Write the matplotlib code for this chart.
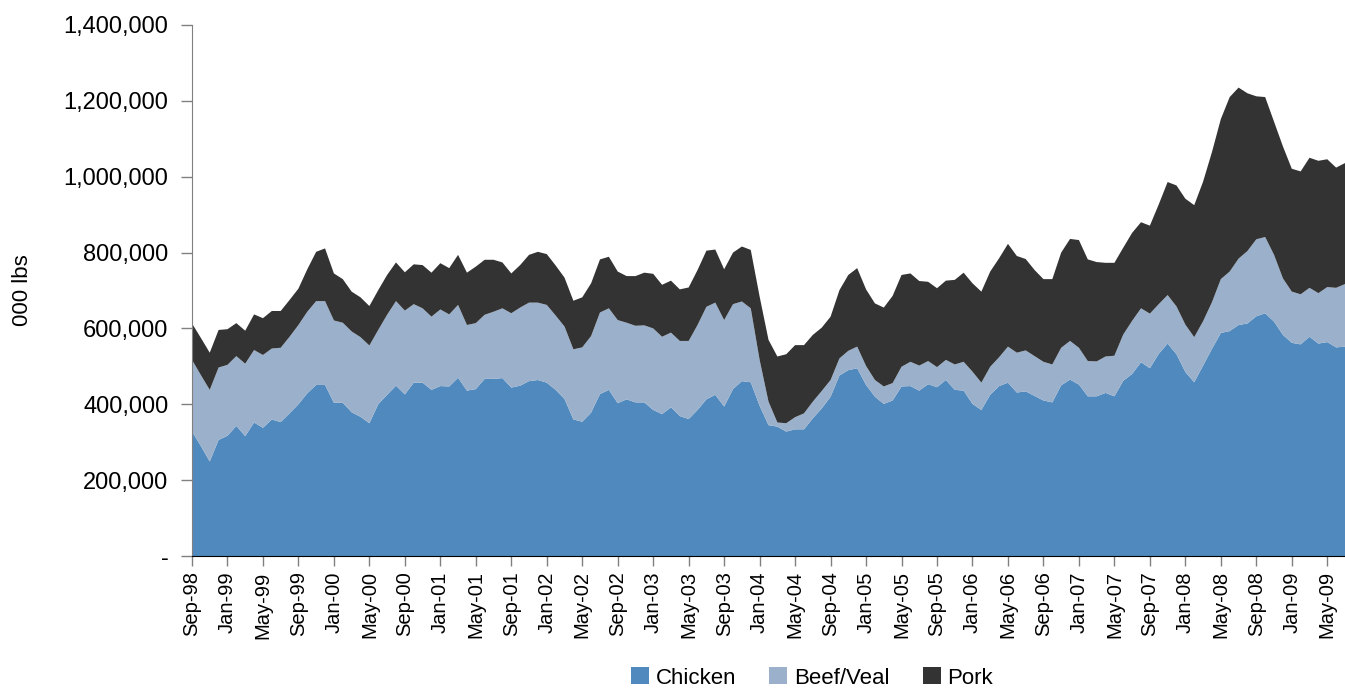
import matplotlib
matplotlib.use("Agg")
import matplotlib.pyplot as plt
from matplotlib.ticker import FuncFormatter, FixedLocator
import numpy as np

plt.rcParams['font.family'] = ['Liberation Sans', 'DejaVu Sans']

# Monthly cold-storage stocks, thousand lbs (values in '000s of the axis unit)
month_names = ['Jan', 'Feb', 'Mar', 'Apr', 'May', 'Jun', 'Jul', 'Aug', 'Sep', 'Oct', 'Nov', 'Dec']
start_year = 1998
start_month = 8  # Sep
n_points = 131   # Sep-98 .. Jul-09

chicken = [328, 290, 249, 306, 317, 343, 316, 352, 338, 360, 353, 376, 400, 429, 451, 451,
           404, 404, 379, 367, 350, 400, 425, 449, 426, 457, 457, 438, 448, 447, 470, 436,
           440, 467, 467, 469, 444, 449, 461, 464, 457, 438, 414, 360, 354, 378, 427, 438,
           403, 413, 405, 405, 385, 374, 392, 369, 361, 385, 413, 425, 394, 440, 461, 458,
           396, 345, 341, 328, 334, 334, 363, 389, 420, 476, 490, 495, 451, 420, 401, 410,
           447, 448, 436, 453, 445, 464, 438, 436, 401, 385, 425, 448, 457, 431, 434, 422,
           410, 405, 450, 465, 452, 421, 421, 430, 421, 462, 480, 511, 495, 533, 560, 532,
           485, 458, 502, 546, 588, 593, 609, 613, 632, 640, 618, 583, 562, 558, 578, 560,
           564, 550, 552]

beef_veal = [189, 187, 189, 191, 187, 184, 191, 191, 192, 187, 196, 202, 209, 215, 221, 221,
             217, 211, 213, 210, 205, 196, 211, 223, 221, 207, 196, 193, 202, 190, 192, 173,
             174, 169, 177, 184, 196, 206, 207, 204, 205, 196, 191, 185, 196, 202, 215, 215,
             219, 202, 202, 203, 215, 204, 197, 198, 206, 224, 244, 243, 228, 224, 210, 195,
             121, 62, 11, 22, 32, 42, 44, 46, 44, 45, 51, 57, 50, 44, 46, 46,
             52, 64, 66, 61, 53, 53, 67, 76, 85, 72, 74, 76, 95, 105, 108, 105,
             102, 100, 99, 102, 97, 93, 92, 96, 107, 122, 140, 142, 144, 131, 128, 126,
             125, 119, 117, 123, 142, 157, 175, 191, 203, 201, 176, 149, 135, 132, 129, 133,
             145, 157, 165]

pork = [96, 98, 98, 99, 94, 87, 87, 94, 97, 99, 97, 97, 96, 112, 130, 139,
        124, 115, 105, 105, 104, 105, 105, 102, 101, 105, 114, 116, 122, 122, 132, 138,
        149, 145, 137, 121, 105, 112, 126, 134, 134, 132, 129, 128, 132, 139, 140, 136,
        128, 123, 131, 139, 144, 137, 137, 136, 141, 145, 148, 140, 134, 136, 145, 154,
        167, 163, 174, 182, 190, 180, 176, 167, 167, 180, 200, 207, 202, 202, 208, 230,
        242, 233, 223, 209, 208, 209, 223, 235, 233, 240, 251, 261, 271, 255, 241, 227,
        218, 225, 251, 269, 284, 268, 262, 247, 245, 229, 232, 227, 232, 263, 298, 319,
        332, 348, 368, 396, 422, 460, 451, 416, 377, 369, 351, 348, 324, 324, 343, 349,
        337, 317, 319]

series_names = ["Chicken", "Beef/Veal", "Pork"]
series_colors = ["#4F89BD", "#9BB0CB", "#333333"]
UNIT = 1000

labels = []
for k in range(n_points):
    m = (start_month + k) % 12
    y = start_year + (start_month + k) // 12
    labels.append(f"{month_names[m]}-{y % 100:02d}")

x = np.arange(n_points)
data = [np.array(s) * UNIT for s in (chicken, beef_veal, pork)]

fig = plt.figure(figsize=(13.45, 6.91), dpi=100)
ax = fig.add_axes([192 / 1345, 1 - 556 / 691, 1 - 192 / 1345, (556 - 25) / 691])

ax.stackplot(x, *data, labels=series_names, colors=series_colors, linewidth=0)

ax.set_xlim(0, n_points - 1)
ax.set_ylim(0, 1_400_000)

ax.yaxis.set_major_locator(FixedLocator(np.arange(0, 1_400_001, 200_000)))
ax.yaxis.set_major_formatter(FuncFormatter(lambda v, p: "-" if v == 0 else f"{v:,.0f}"))

tick_idx = list(range(0, n_points, 4))
ax.set_xticks(tick_idx)
ax.set_xticklabels([labels[i] for i in tick_idx], rotation=90, fontsize=14.5)

ax.tick_params(axis='y', labelsize=17, length=8, width=1, color='#808080', pad=9)
ax.tick_params(axis='x', length=7, width=1, color='#808080', pad=4)

for side in ("top", "right"):
    ax.spines[side].set_visible(False)
ax.spines["left"].set_color("#808080")
ax.spines["bottom"].set_color("#000000")
ax.spines["left"].set_zorder(5)
ax.spines["bottom"].set_zorder(5)

fig.text(22 / 1345, 1 - 290 / 691, "000 lbs", rotation=90, fontsize=16,
         ha="center", va="center")

fig.legend(loc="center", bbox_to_anchor=(812 / 1345, 1 - 678 / 691), ncol=3,
           frameon=False, fontsize=16, handlelength=0.8, handleheight=0.8,
           handletextpad=0.3, columnspacing=1.5)

fig.savefig("out.png", dpi=100)
